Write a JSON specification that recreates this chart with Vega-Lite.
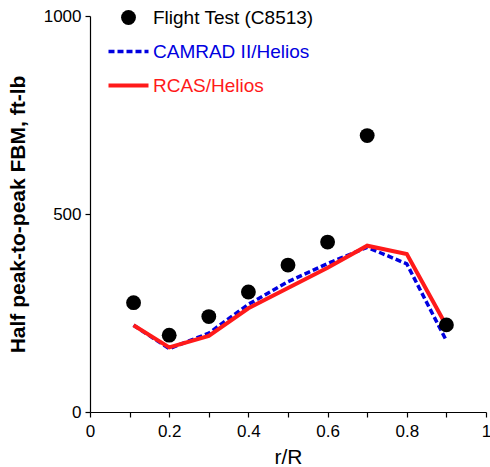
{
  "$schema": "https://vega.github.io/schema/vega-lite/v6.json",
  "width": 396,
  "height": 396,
  "autosize": "none",
  "padding": {"left": 90, "top": 16, "right": 4, "bottom": 55},
  "background": "white",
  "config": {
    "view": {"stroke": null},
    "font": "Liberation Sans",
    "axis": {
      "grid": false,
      "domainColor": "black",
      "domainWidth": 1.2,
      "tickColor": "black",
      "tickWidth": 1.2,
      "tickSize": 5,
      "labelColor": "black",
      "labelFont": "Liberation Sans",
      "labelFontSize": 17,
      "titleColor": "black",
      "titleFont": "Liberation Sans"
    }
  },
  "datasets": {
    "ft": [
      {"r": 0.11, "fbm": 276, "series": "Flight Test (C8513)"},
      {"r": 0.2, "fbm": 194, "series": "Flight Test (C8513)"},
      {"r": 0.3, "fbm": 241, "series": "Flight Test (C8513)"},
      {"r": 0.4, "fbm": 303, "series": "Flight Test (C8513)"},
      {"r": 0.5, "fbm": 371, "series": "Flight Test (C8513)"},
      {"r": 0.6, "fbm": 429, "series": "Flight Test (C8513)"},
      {"r": 0.7, "fbm": 698, "series": "Flight Test (C8513)"},
      {"r": 0.9, "fbm": 220, "series": "Flight Test (C8513)"}
    ],
    "camrad": [
      {"r": 0.11, "fbm": 219, "series": "CAMRAD II/Helios"},
      {"r": 0.2, "fbm": 160, "series": "CAMRAD II/Helios"},
      {"r": 0.3, "fbm": 199, "series": "CAMRAD II/Helios"},
      {"r": 0.4, "fbm": 272, "series": "CAMRAD II/Helios"},
      {"r": 0.5, "fbm": 329, "series": "CAMRAD II/Helios"},
      {"r": 0.6, "fbm": 375, "series": "CAMRAD II/Helios"},
      {"r": 0.7, "fbm": 416, "series": "CAMRAD II/Helios"},
      {"r": 0.8, "fbm": 374, "series": "CAMRAD II/Helios"},
      {"r": 0.9, "fbm": 180, "series": "CAMRAD II/Helios"}
    ],
    "rcas": [
      {"r": 0.11, "fbm": 219, "series": "RCAS/Helios"},
      {"r": 0.2, "fbm": 163, "series": "RCAS/Helios"},
      {"r": 0.3, "fbm": 192, "series": "RCAS/Helios"},
      {"r": 0.4, "fbm": 262, "series": "RCAS/Helios"},
      {"r": 0.5, "fbm": 313, "series": "RCAS/Helios"},
      {"r": 0.6, "fbm": 364, "series": "RCAS/Helios"},
      {"r": 0.7, "fbm": 420, "series": "RCAS/Helios"},
      {"r": 0.8, "fbm": 399, "series": "RCAS/Helios"},
      {"r": 0.9, "fbm": 218, "series": "RCAS/Helios"}
    ]
  },
  "encoding": {
    "x": {
      "field": "r",
      "type": "quantitative",
      "scale": {"domain": [0, 1], "nice": false},
      "axis": {
        "title": "r/R",
        "titleFontSize": 21,
        "titleFontWeight": "normal",
        "titlePadding": 7,
        "values": [0, 0.1, 0.2, 0.3, 0.4, 0.5, 0.6, 0.7, 0.8, 0.9, 1],
        "labelExpr": "round(datum.value*10) % 2 === 0 ? format(datum.value, '~g') : ''",
        "labelFlush": false,
        "labelOverlap": false,
        "labelPadding": 6
      }
    },
    "y": {
      "field": "fbm",
      "type": "quantitative",
      "scale": {"domain": [0, 1000], "nice": false},
      "axis": {
        "title": "Half peak-to-peak FBM, ft-lb",
        "titleFontSize": 21,
        "titleFontWeight": "bold",
        "titlePadding": 15,
        "values": [0, 500, 1000],
        "format": "d",
        "labelPadding": 4
      }
    },
    "color": {
      "field": "series",
      "type": "nominal",
      "scale": {
        "domain": ["Flight Test (C8513)", "CAMRAD II/Helios", "RCAS/Helios"],
        "range": ["black", "#0000e0", "#ff1a1a"]
      },
      "legend": {
        "title": null,
        "orient": "none",
        "legendX": 29,
        "legendY": -8,
        "padding": 0,
        "symbolSize": 1600,
        "symbolType": "stroke",
        "labelFont": "Liberation Sans",
        "labelFontSize": 19,
        "labelOffset": 15,
        "rowPadding": 14,
        "labelLimit": 400,
        "encode": {
          "symbols": {
            "update": {
              "shape": {"signal": "datum.value === 'Flight Test (C8513)' ? 'circle' : 'stroke'"},
              "size": {"signal": "datum.value === 'Flight Test (C8513)' ? 220 : 1600"},
              "fill": {"signal": "datum.value === 'Flight Test (C8513)' ? 'black' : 'transparent'"},
              "stroke": {"signal": "datum.value === 'Flight Test (C8513)' ? 'black' : (datum.value === 'CAMRAD II/Helios' ? '#0000e0' : '#ff1a1a')"},
              "strokeWidth": {"signal": "datum.value === 'Flight Test (C8513)' ? 0 : (datum.value === 'CAMRAD II/Helios' ? 3.5 : 4)"},
              "strokeDash": {"signal": "datum.value === 'CAMRAD II/Helios' ? [6, 3] : [1, 0]"},
              "opacity": {"value": 1},
              "fillOpacity": {"value": 1}
            }
          },
          "labels": {
            "update": {
              "fill": {"signal": "datum.value === 'Flight Test (C8513)' ? 'black' : (datum.value === 'CAMRAD II/Helios' ? '#0000e0' : '#ff1a1a')"}
            }
          }
        }
      }
    }
  },
  "layer": [
    {
      "data": {"name": "camrad"},
      "mark": {"type": "line", "strokeWidth": 3.5, "strokeDash": [6, 3]}
    },
    {
      "data": {"name": "rcas"},
      "mark": {"type": "line", "strokeWidth": 4}
    },
    {
      "data": {"name": "ft"},
      "mark": {"type": "point", "filled": true, "size": 220, "opacity": 1}
    }
  ]
}
